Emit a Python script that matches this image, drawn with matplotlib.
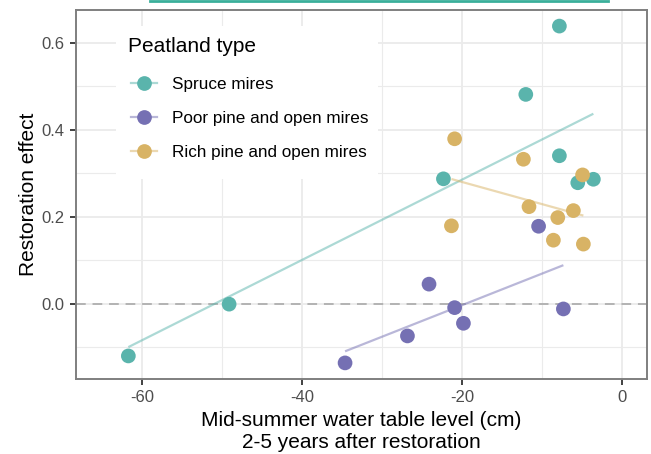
import numpy as np
import matplotlib.pyplot as plt
from matplotlib.lines import Line2D
from matplotlib.patches import Rectangle
from matplotlib.ticker import MultipleLocator

plt.rcParams['font.family'] = ['Liberation Sans', 'DejaVu Sans']

# data
spruce_x = [-61.7, -49.1, -22.3, -12.0, -7.8, -7.8, -5.5, -3.55]
spruce_y = [-0.120, -0.001, 0.287, 0.481, 0.638, 0.340, 0.278, 0.286]

poor_x = [-34.6, -26.8, -24.1, -20.9, -19.8, -10.4, -7.3]
poor_y = [-0.136, -0.074, 0.045, -0.009, -0.045, 0.178, -0.012]

rich_x = [-20.9, -21.3, -12.3, -11.6, -8.0, -8.55, -6.05, -4.9, -4.8]
rich_y = [0.379, 0.179, 0.332, 0.223, 0.198, 0.146, 0.214, 0.296, 0.137]

groups = ['Spruce mires', 'Poor pine and open mires', 'Rich pine and open mires']
colors = ['#5ab4ac', '#7570b3', '#d8b365']
series = [(spruce_x, spruce_y), (poor_x, poor_y), (rich_x, rich_y)]

fig = plt.figure(figsize=(6.51, 4.54), dpi=100)
ax = fig.add_axes([0.1167, 0.1652, 0.8772, 0.8128])

# zero reference line
ax.axhline(0, color='#b3b3b3', lw=1.4, ls=(0, (5, 3.5)), zorder=1)

# regression lines
for (x, y), c in zip(series, colors):
    x = np.array(x)
    k, b = np.polyfit(x, y, 1)
    xs = np.array([x.min(), x.max()])
    ax.plot(xs, k * xs + b, color=c, lw=1.6, alpha=0.5, zorder=2, solid_capstyle='butt')

# points
for (x, y), c in zip(series, colors):
    ax.scatter(x, y, s=112, color=c, edgecolors='none', zorder=3)

ax.set_xlim(-68.25, 3.16)
ax.set_ylim(-0.173, 0.675)
ax.xaxis.set_minor_locator(MultipleLocator(10))
ax.yaxis.set_major_locator(MultipleLocator(0.2))
ax.yaxis.set_minor_locator(MultipleLocator(0.1))
ax.set_xticks([-60, -40, -20, 0])
ax.set_xticklabels(['-60', '-40', '-20', '0'])
ax.yaxis.set_major_formatter(plt.FuncFormatter(lambda v, p: f'{v:.1f}'))

ax.grid(which='major', color='#ebebeb', lw=1.3, zorder=0)
ax.grid(which='minor', color='#ebebeb', lw=0.8, zorder=0)
ax.set_axisbelow(True)

for s in ax.spines.values():
    s.set_color('#7f7f7f')
    s.set_linewidth(1.4)
ax.tick_params(which='major', length=4, width=1.3, color='#333333',
               labelsize=12, labelcolor='#4d4d4d', pad=4)
ax.tick_params(which='minor', length=0)

ax.set_xlabel('Mid-summer water table level (cm)\n2-5 years after restoration',
              fontsize=15, labelpad=4, linespacing=1.2)
ax.set_ylabel('Restoration effect', fontsize=15, labelpad=3)

# white legend background
ax.add_patch(Rectangle((0.070, 0.542), 0.459, 0.415, transform=ax.transAxes,
                       facecolor='white', edgecolor='none', zorder=4))

# legend keys: faint line with a solid point on top
handles = []
for c in colors:
    seg = Line2D([], [], color=c, lw=1.6, alpha=0.5)
    dot = Line2D([], [], color=c, marker='o', markersize=10.6, lw=0,
                 markeredgewidth=0)
    handles.append((seg, dot))
leg = ax.legend(handles, groups, loc='upper left',
                bbox_to_anchor=(0.0963, 0.8177), borderaxespad=0, borderpad=0,
                frameon=False, fontsize=12.3,
                handlelength=1.5, handletextpad=0.88, labelspacing=1.09)
leg.set_zorder(5)
ax.text(0.0905, 0.9005, 'Peatland type', transform=ax.transAxes, fontsize=15,
        ha='left', va='center', zorder=6)

# stray teal rule at the very top of the picture
fig.add_artist(Line2D([0.231, 0.934], [0.998, 0.998], transform=fig.transFigure,
                      color='#3aaf9a', lw=2))

fig.savefig('out.png', dpi=100)
